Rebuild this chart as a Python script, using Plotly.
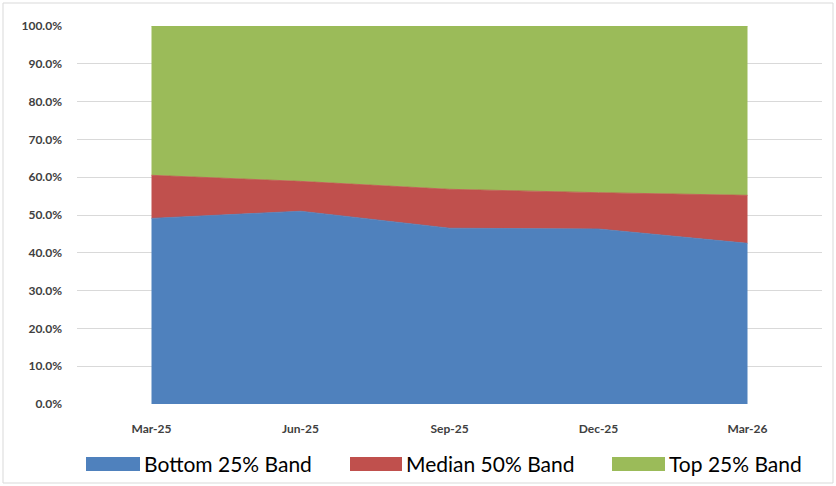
import plotly.graph_objects as go

categories = ["Mar-25", "Jun-25", "Sep-25", "Dec-25", "Mar-26"]
bottom_25 = [49.1, 51.0, 46.5, 46.3, 42.5]
median_50 = [11.4, 7.9, 10.3, 9.6, 12.7]
top_25 = [39.5, 41.1, 43.2, 44.1, 44.8]
series_names = ["Bottom 25% Band", "Median 50% Band", "Top 25% Band"]
colors = ["#4F81BD", "#C0504D", "#9BBB59"]

W, H = 836, 486
ml, mr, mt, mb = 77, 14, 26, 82
pw = W - ml - mr
ph = H - mt - mb


def px_x(p):
    return (p - ml) / pw


def px_y(p):
    return (H - mb - p) / ph


fig = go.Figure()
x_idx = list(range(len(categories)))
for name, vals, col in zip(series_names, [bottom_25, median_50, top_25], colors):
    fig.add_trace(go.Scatter(
        x=x_idx, y=[v / 100 for v in vals], name=name,
        mode="lines", stackgroup="one",
        line=dict(color=col, width=0.8), fillcolor=col,
        hoverinfo="skip", showlegend=False,
    ))

# outer chart border
fig.add_shape(type="rect", xref="paper", yref="paper",
              x0=px_x(3), x1=px_x(W - 3), y0=px_y(H - 3), y1=px_y(3),
              line=dict(color="#D9D9D9", width=1), layer="below")

# manual legend (swatch + label)
legend_swatch_x = [(86, 140), (350, 402), (612, 665)]
for (sx0, sx1), name, col in zip(legend_swatch_x, series_names, colors):
    fig.add_shape(type="rect", xref="paper", yref="paper",
                  x0=px_x(sx0), x1=px_x(sx1), y0=px_y(471), y1=px_y(457),
                  fillcolor=col, line=dict(width=0))
    fig.add_annotation(xref="paper", yref="paper", x=px_x(sx1 + 2), y=px_y(464),
                       xanchor="left", yanchor="middle", showarrow=False,
                       text=name, font=dict(size=21, color="#000000",
                                            family="Lato, Liberation Sans, sans-serif"))

tick_font = dict(size=12, color="#404040", family="Lato, sans-serif", weight="bold")

fig.update_layout(
    width=W, height=H,
    margin=dict(l=ml, r=mr, t=mt, b=mb, autoexpand=False),
    paper_bgcolor="white", plot_bgcolor="white",
    font=dict(family="Lato, Liberation Sans, sans-serif", color="#404040"),
    showlegend=False,
    xaxis=dict(range=[-0.5, 4.5], tickmode="array", tickvals=x_idx, ticktext=categories,
               showgrid=False, zeroline=False, showline=False, ticks="",
               tickfont=tick_font, ticklabelstandoff=16, fixedrange=True),
    yaxis=dict(range=[0, 1], tickmode="array", tickvals=[i / 10 for i in range(11)],
               tickformat=".1%", showgrid=True, gridcolor="#D9D9D9", gridwidth=1,
               zeroline=False, showline=False, ticks="",
               tickfont=tick_font, ticklabelstandoff=14, fixedrange=True),
)

fig.write_html("out.html")
